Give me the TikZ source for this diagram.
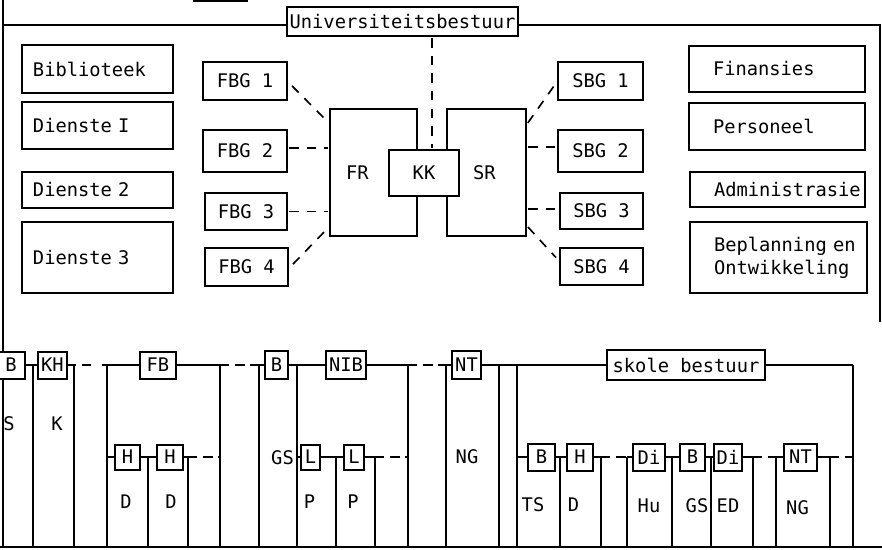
\documentclass[tikz,border=0pt]{standalone}
\usepackage{fontspec}
\usetikzlibrary{calc}
\newfontfamily\typefont{DejaVu Sans Mono}
\tikzset{
  % the picture is laid out in scan pixels: 1 unit = 0.03cm, y grows downwards
  wh/.style 2 args={minimum width=#1*0.03cm, minimum height=#2*0.03cm},
  typed/.style={font=\typefont\fontsize{16}{19.5}\selectfont},
  %
  % boxes of the central administration (top half)
  box/.style={typed, draw, line width=2pt, inner sep=0pt},
  % flush-left text: #1 = width, #2 = height, #3 = left indent
  padbox/.style n args={3}{box, align=left, text width=#1,
    minimum height=#2*0.03cm, execute at begin node={\leftskip=#3}},
  % council boxes, drawn over the frame lines
  council/.style={box, fill=white},
  %
  % boxes of the faculty / school tree (bottom half)
  sbox/.style={typed, draw, line width=1.7pt, inner sep=0pt, fill=white},
  lab/.style={typed, inner sep=0pt},
  %
  % lines
  frame/.style={line width=1.4pt},
  link/.style={line width=1.4pt, dash pattern=on 8pt off 7pt,
    shorten >=1pt, shorten <=1pt},
  tree/.style={line width=1.6pt},
  gap/.style={tree, dash pattern=on 8pt off 5pt},
}
\begin{document}
\begin{tikzpicture}[x=0.03cm, y=-0.03cm]
  \useasboundingbox (0,0) rectangle (882,549);

  %% ── Frame of the top half ────────────────────────────────────────────────
  \fill (193,0) rectangle (248,2);
  \coordinate (lt) at (3,0);
  \coordinate (lb) at (3,547);
  \coordinate (tl) at (3,25);
  \coordinate (tr) at (880,25);
  \coordinate (rb) at (880,322);

  \node[council, wh={231}{29}] (univ) at (402.5,21.5) {Universiteitsbestuur};

  \draw[frame] (lt) -- (lb);
  \draw[frame] (tl) -- (tl -| univ.west);
  \draw[frame] (tr -| univ.east) -- (tr) -- (rb);

  %% ── Services (left) and departments (right) ──────────────────────────────
  \node[padbox={4.53cm}{48}{0.33cm}] (bib)  at (97.5,69)    {Biblioteek};
  \node[padbox={4.53cm}{47}{0.33cm}] (dn1)  at (97.5,125.5) {Dienste I};
  \node[padbox={4.53cm}{36}{0.33cm}] (dn2)  at (97.5,190)   {Dienste 2};
  \node[padbox={4.53cm}{71}{0.33cm}] (dn3)  at (97.5,257.5) {Dienste 3};

  \node[padbox={5.28cm}{46}{0.72cm}] (fin)  at (777,69)    {Finansies};
  \node[padbox={5.28cm}{47}{0.72cm}] (pers) at (777,126.5) {Personeel};
  \node[padbox={5.25cm}{35}{0.72cm}] (adm)  at (777.5,189.5) {Administrasie};
  \node[padbox={5.31cm}{71}{0.72cm}] (bepl) at (778.5,257.5) {Beplanning en\\Ontwikkeling};

  %% ── Councils ─────────────────────────────────────────────────────────────
  \node[padbox={2.61cm}{127}{0.48cm}] (fr) at (373.5,172.5) {FR};
  \node[padbox={2.37cm}{127}{0.78cm}] (sr) at (486.5,172.5) {SR};
  \node[council, wh={70}{46}] (kk) at (424,173) {KK};

  \node[box, wh={84}{38}] (fbg1) at (245,81)      {FBG 1};
  \node[box, wh={84}{42}] (fbg2) at (245,151)     {FBG 2};
  \node[box, wh={82}{37}] (fbg3) at (246,211.5)   {FBG 3};
  \node[box, wh={83}{38}] (fbg4) at (246.5,267)   {FBG 4};

  \node[box, wh={85}{38}] (sbg1) at (600.5,81)    {SBG 1};
  \node[box, wh={85}{42}] (sbg2) at (600.5,151)   {SBG 2};
  \node[box, wh={83}{36}] (sbg3) at (601.5,211)   {SBG 3};
  \node[box, wh={83}{37}] (sbg4) at (601.5,266.5) {SBG 4};

  %% dashed links to the councils
  \coordinate (drop) at (432,0);
  \draw[link] (univ.south -| drop) -- (kk.north -| drop);
  \draw[link] ($(fbg1.east)+(3,4)$) -- ($(fr.north west)+(-2,13)$);
  \draw[link] ($(fbg2.east)+(0,-3)$) -- ($(fbg2.east -| fr.west)+(0,-3)$);
  \draw[link] (fbg3.east) -- (fbg3.east -| fr.west);
  \draw[link] ($(fbg4.east)+(3,-2)$) -- ($(fr.south west)+(-2,-8)$);
  \draw[link] ($(sr.north east)+(0,16)$) -- ($(sbg1.west)+(0,1)$);
  \draw[link] ($(sbg2.west -| sr.east)+(0,-4)$) -- ($(sbg2.west)+(0,-4)$);
  \draw[link] ($(sbg3.west -| sr.east)+(0,-2)$) -- ($(sbg3.west)+(0,-2)$);
  \draw[link] ($(sr.south east)+(0,-11)$) -- ($(sbg4.west)+(-2,-8)$);

  %% ── Faculty tree: first level ────────────────────────────────────────────
  \node[sbox, wh={28}{27}]  (b1)    at (11,365)    {B};
  \node[sbox, wh={29}{27}]  (kh)    at (52.5,365)  {KH};
  \node[sbox, wh={36}{27}]  (fb)    at (158,365)   {FB};
  \node[sbox, wh={23}{28}]  (b2)    at (276.5,365) {B};
  \node[sbox, wh={40}{28}]  (nib)   at (346,365)   {NIB};
  \node[sbox, wh={29}{28}]  (nt1)   at (466.5,365) {NT};
  \node[sbox, wh={158}{30}] (skole) at (686,365)   {skole bestuur};

  \draw[tree] (b1.east) -- (kh.west);
  \draw[tree] (kh.east) -- (76,365);
  \draw[gap]  (82,365) -- (97,365);
  \draw[tree] (102,365) -- (fb.west);
  \draw[tree] (fb.east) -- (220,365);
  \draw[gap]  (220,365) -- (259,365);
  \draw[tree] (259,365) -- (b2.west);
  \draw[tree] (b2.east) -- (nib.west);
  \draw[tree] (nib.east) -- (408,365);
  \draw[gap]  (408,365) -- (446,365);
  \draw[tree] (446,365) -- (nt1.west);
  \draw[tree] (nt1.east) -- (skole.west);
  \draw[tree] (skole.east) -- (853,365);

  %% ── Faculty tree: second level ───────────────────────────────────────────
  \node[sbox, wh={25}{25}] (h1)  at (127.5,457) {H};
  \node[sbox, wh={26}{25}] (h2)  at (170,457)   {H};
  \node[sbox, wh={19}{25}] (l1)  at (310.5,457) {L};
  \node[sbox, wh={20}{25}] (l2)  at (354,457)   {L};
  \node[sbox, wh={27}{27}] (b3)  at (541.5,457) {B};
  \node[sbox, wh={26}{27}] (h3)  at (580,457)   {H};
  \node[sbox, wh={32}{27}] (di1) at (649,457)   {Di};
  \node[sbox, wh={25}{27}] (b4)  at (692.5,457) {B};
  \node[sbox, wh={28}{27}] (di2) at (728,457)   {Di};
  \node[sbox, wh={33}{27}] (nt2) at (800.5,457) {NT};

  \draw[tree] (107,457) -- (h1.west);
  \draw[tree] (h1.east) -- (h2.west);
  \draw[tree] (h2.east) -- (188,457);
  \draw[gap]  (188,457) -- (220,457);
  \draw[tree] (297,457) -- (l1.west);
  \draw[tree] (l1.east) -- (l2.west);
  \draw[tree] (l2.east) -- (375,457);
  \draw[gap]  (375,457) -- (408,457);
  \draw[tree] (517,457) -- (b3.west);
  \draw[tree] (b3.east) -- (h3.west);
  \draw[tree] (h3.east) -- (601,457);
  \draw[gap]  (601,457) -- (627,457);
  \draw[tree] (627,457) -- (di1.west);
  \draw[tree] (di1.east) -- (b4.west);
  \draw[tree] (b4.east) -- (di2.west);
  \draw[tree] (di2.east) -- (753,457);
  \draw[gap]  (753,457) -- (776,457);
  \draw[tree] (776,457) -- (nt2.west);
  \draw[tree] (nt2.east) -- (830,457);
  \draw[gap]  (830,457) -- (853,457);

  %% ── Column walls down to the base line ──────────────────────────────────
  \foreach \x in {33,74,107,220,259,297,408,446,499,517,853}
    \draw[tree] (\x,365) -- (\x,547);
  \foreach \x in {148,188,336,375,560,601,627,672,711,753,776,830}
    \draw[tree] (\x,457) -- (\x,547);
  \draw[tree] (0,547) -- (882,547);

  %% column labels
  \node[lab] (lS)   at (9,424)     {S};
  \node[lab] (lK)   at (57,424)    {K};
  \node[lab] (lD1)  at (126,502)   {D};
  \node[lab] (lD2)  at (171,502)   {D};
  \node[lab] (lGS1) at (282.5,458) {GS};
  \node[lab] (lP1)  at (309.5,502) {P};
  \node[lab] (lP2)  at (353,502)   {P};
  \node[lab] (lNG1) at (467,457)   {NG};
  \node[lab] (lTS)  at (533,505)   {TS};
  \node[lab] (lD3)  at (573.5,505) {D};
  \node[lab] (lHu)  at (649,506)   {Hu};
  \node[lab] (lGS2) at (697,506)   {GS};
  \node[lab] (lED)  at (728,506)   {ED};
  \node[lab] (lNG2) at (797.5,508) {NG};

\end{tikzpicture}
\end{document}
